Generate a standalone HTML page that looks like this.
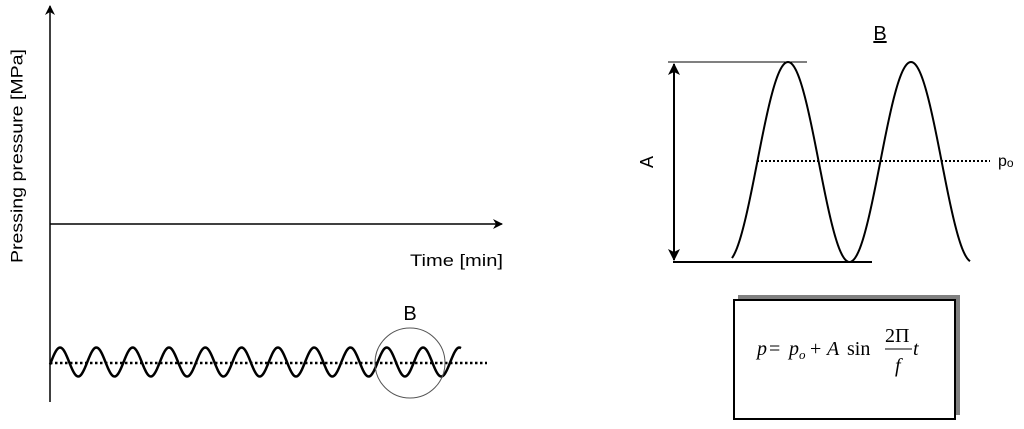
<!DOCTYPE html>
<html><head><meta charset="utf-8"><style>
body{margin:0;background:#fff;width:1024px;height:429px;overflow:hidden;position:relative;font-family:"Liberation Sans",sans-serif}
</style></head><body>
<svg width="1024" height="429" style="position:absolute;left:0;top:0">
<defs>
<marker id="ah" markerWidth="10" markerHeight="10" refX="9" refY="5" orient="auto" markerUnits="userSpaceOnUse"><path d="M0,0 L10,5 L0,10 L3,5 z" fill="#000"/></marker>
<marker id="ah2" markerWidth="12" markerHeight="12" refX="11" refY="6" orient="auto-start-reverse" markerUnits="userSpaceOnUse"><path d="M0,0 L12,6 L0,12 L3,6 z" fill="#000"/></marker>
</defs>
<line x1="50" y1="402" x2="50" y2="6" stroke="#000" stroke-width="1.5" marker-end="url(#ah)"/>
<line x1="50" y1="224" x2="502" y2="224" stroke="#000" stroke-width="1.5" marker-end="url(#ah)"/>
<text x="18" y="156" font-size="17" text-anchor="middle" textLength="214" lengthAdjust="spacingAndGlyphs" transform="rotate(-90 18 156)" dominant-baseline="middle">Pressing pressure  [MPa]</text>
<text x="410" y="266" font-size="17" textLength="93" lengthAdjust="spacingAndGlyphs">Time [min]</text>
<line x1="50" y1="363" x2="487" y2="363" stroke="#000" stroke-width="2.5" stroke-dasharray="2.5,2.5"/>
<path id="w1" fill="none" stroke="#000" stroke-width="2.5"/>
<circle cx="410" cy="363" r="35" fill="none" stroke="#555" stroke-width="1"/>
<text x="410" y="320" font-size="20" text-anchor="middle">B</text>

<text x="880" y="40" font-size="20" text-anchor="middle" text-decoration="underline">B</text>
<line x1="668" y1="62" x2="807" y2="62" stroke="#000" stroke-width="1"/>
<line x1="673" y1="262" x2="872" y2="262" stroke="#000" stroke-width="2"/>
<line x1="674" y1="64" x2="674" y2="260" stroke="#000" stroke-width="2" marker-start="url(#ah2)" marker-end="url(#ah2)"/>
<text x="648" y="162" font-size="18" text-anchor="middle" transform="rotate(-90 648 162)" dominant-baseline="middle">A</text>
<line x1="757" y1="161" x2="990" y2="161" stroke="#000" stroke-width="2" stroke-dasharray="2,2"/>
<text x="998" y="166" font-size="16">p<tspan font-size="12" dy="1">o</tspan></text>
<path id="w2" fill="none" stroke="#000" stroke-width="2"/>

<rect x="738" y="295" width="222" height="120" fill="#808080"/>
<rect x="734" y="300" width="221" height="119" fill="#fff" stroke="#000" stroke-width="2"/>
<g font-family="Liberation Serif,serif" font-size="20">
<text x="757" y="355" font-style="italic">p</text>
<text x="769" y="355">=</text>
<text x="789" y="355" font-style="italic">p</text>
<text x="799" y="359" font-style="italic" font-size="13">o</text>
<text x="810" y="355">+</text>
<text x="827" y="355" font-style="italic">A</text>
<text x="847" y="355">sin</text>
<text x="885" y="342">2Π</text>
<line x1="885" y1="349" x2="912" y2="349" stroke="#000" stroke-width="1"/>
<text x="895" y="372" font-style="italic">f</text>
<text x="913" y="355" font-style="italic">t</text>
</g>
</svg>
<script>
var d="";for(var x=50;x<=461;x+=1){var y=362-14.5*Math.sin(2*Math.PI*(x-51)/36.3);d+=(x==50?"M":"L")+x+","+y.toFixed(2);}
document.getElementById("w1").setAttribute("d",d);
d="";for(var x=732;x<=970;x+=1){var y=162-100*Math.cos(2*Math.PI*(x-788)/123);d+=(x==732?"M":"L")+x+","+y.toFixed(2);}
document.getElementById("w2").setAttribute("d",d);
</script>
</body></html>
